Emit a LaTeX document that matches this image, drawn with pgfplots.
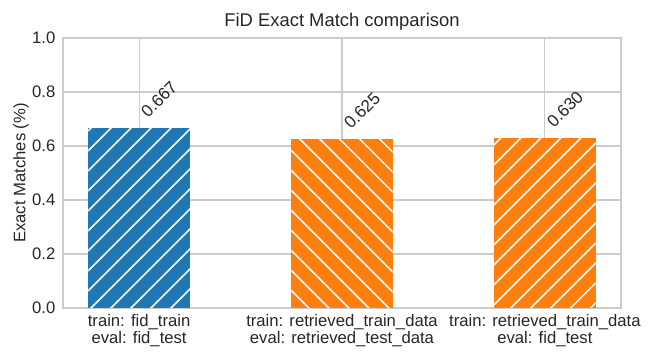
\documentclass[border=0pt]{standalone}
\usepackage{pgfplots}
\pgfplotsset{compat=1.18}
\usepackage{fontspec}
\setmainfont{Liberation Sans}
\usetikzlibrary{patterns.meta}
\definecolor{mblue}{HTML}{1F77B4}
\definecolor{morange}{HTML}{FF7F0E}
\definecolor{gridc}{HTML}{CCCCCC}
\definecolor{txt}{HTML}{262626}
\begin{document}
\begin{tikzpicture}[x=1pt,y=1pt]
\begin{axis}[
  scale only axis,
  width=418.5pt, height=202.5pt,
  xmin=-0.375, xmax=2.375,
  ymin=0, ymax=1,
  xtick={0,1,2},
  xticklabels={{train: fid\_train\\eval: fid\_test},{train: retrieved\_train\_data\\eval: retrieved\_test\_data},{train: retrieved\_train\_data\\eval: fid\_test}},
  x tick label style={align=center, font=\fontsize{12.5pt}{12.6pt}\selectfont, text=txt, inner sep=0pt, yshift=-4.5pt},
  ytick={0,0.2,0.4,0.6,0.8,1.0},
  y tick label style={font=\fontsize{12.5pt}{15pt}\selectfont, text=txt, inner sep=0pt, xshift=-5.5pt},
  yticklabel style={/pgf/number format/.cd, fixed, fixed zerofill, precision=1, assume math mode=true},
  major tick length=0pt,
  grid=major,
  grid style={gridc, line width=0.8pt},
  axis line style={gridc, line width=1pt},
  title={FiD Exact Match comparison},
  title style={font=\fontsize{13.8pt}{16pt}\selectfont, text=txt, yshift=-4pt},
  ylabel={Exact Matches (\%)},
  ylabel style={font=\fontsize{12.5pt}{15pt}\selectfont, text=txt, yshift=-1pt},
  ybar, bar width=0.5, bar shift=0pt,
  nodes near coords,
  nodes near coords style={/pgf/number format/.cd, fixed, fixed zerofill, precision=3, assume math mode=true, /tikz/.cd,
    rotate=45, anchor=south west, inner sep=0pt, xshift=9.6pt, yshift=-0.2pt,
    font=\fontsize{12.8pt}{15pt}\selectfont, text=txt},
  clip=false,
]
\addplot[draw=none, fill=mblue, postaction={pattern={Lines[angle=45,distance=10.6pt,line width=1.15pt]}, pattern color=white}] coordinates {(0,0.667)};
\addplot[draw=none, fill=morange, postaction={pattern={Lines[angle=-45,distance=10.6pt,line width=1.15pt]}, pattern color=white}] coordinates {(1,0.625)};
\addplot[draw=none, fill=morange, postaction={pattern={Lines[angle=45,distance=10.6pt,line width=1.15pt]}, pattern color=white}] coordinates {(2,0.630)};
\coordinate (ll) at (rel axis cs:0,0);
\coordinate (ur) at (rel axis cs:1,1);
\end{axis}
\pgfresetboundingbox
\path[use as bounding box] ([xshift=-47.25pt,yshift=-38.25pt]ll) rectangle ([xshift=22.5pt,yshift=28.5pt]ur);
\end{tikzpicture}
\end{document}
